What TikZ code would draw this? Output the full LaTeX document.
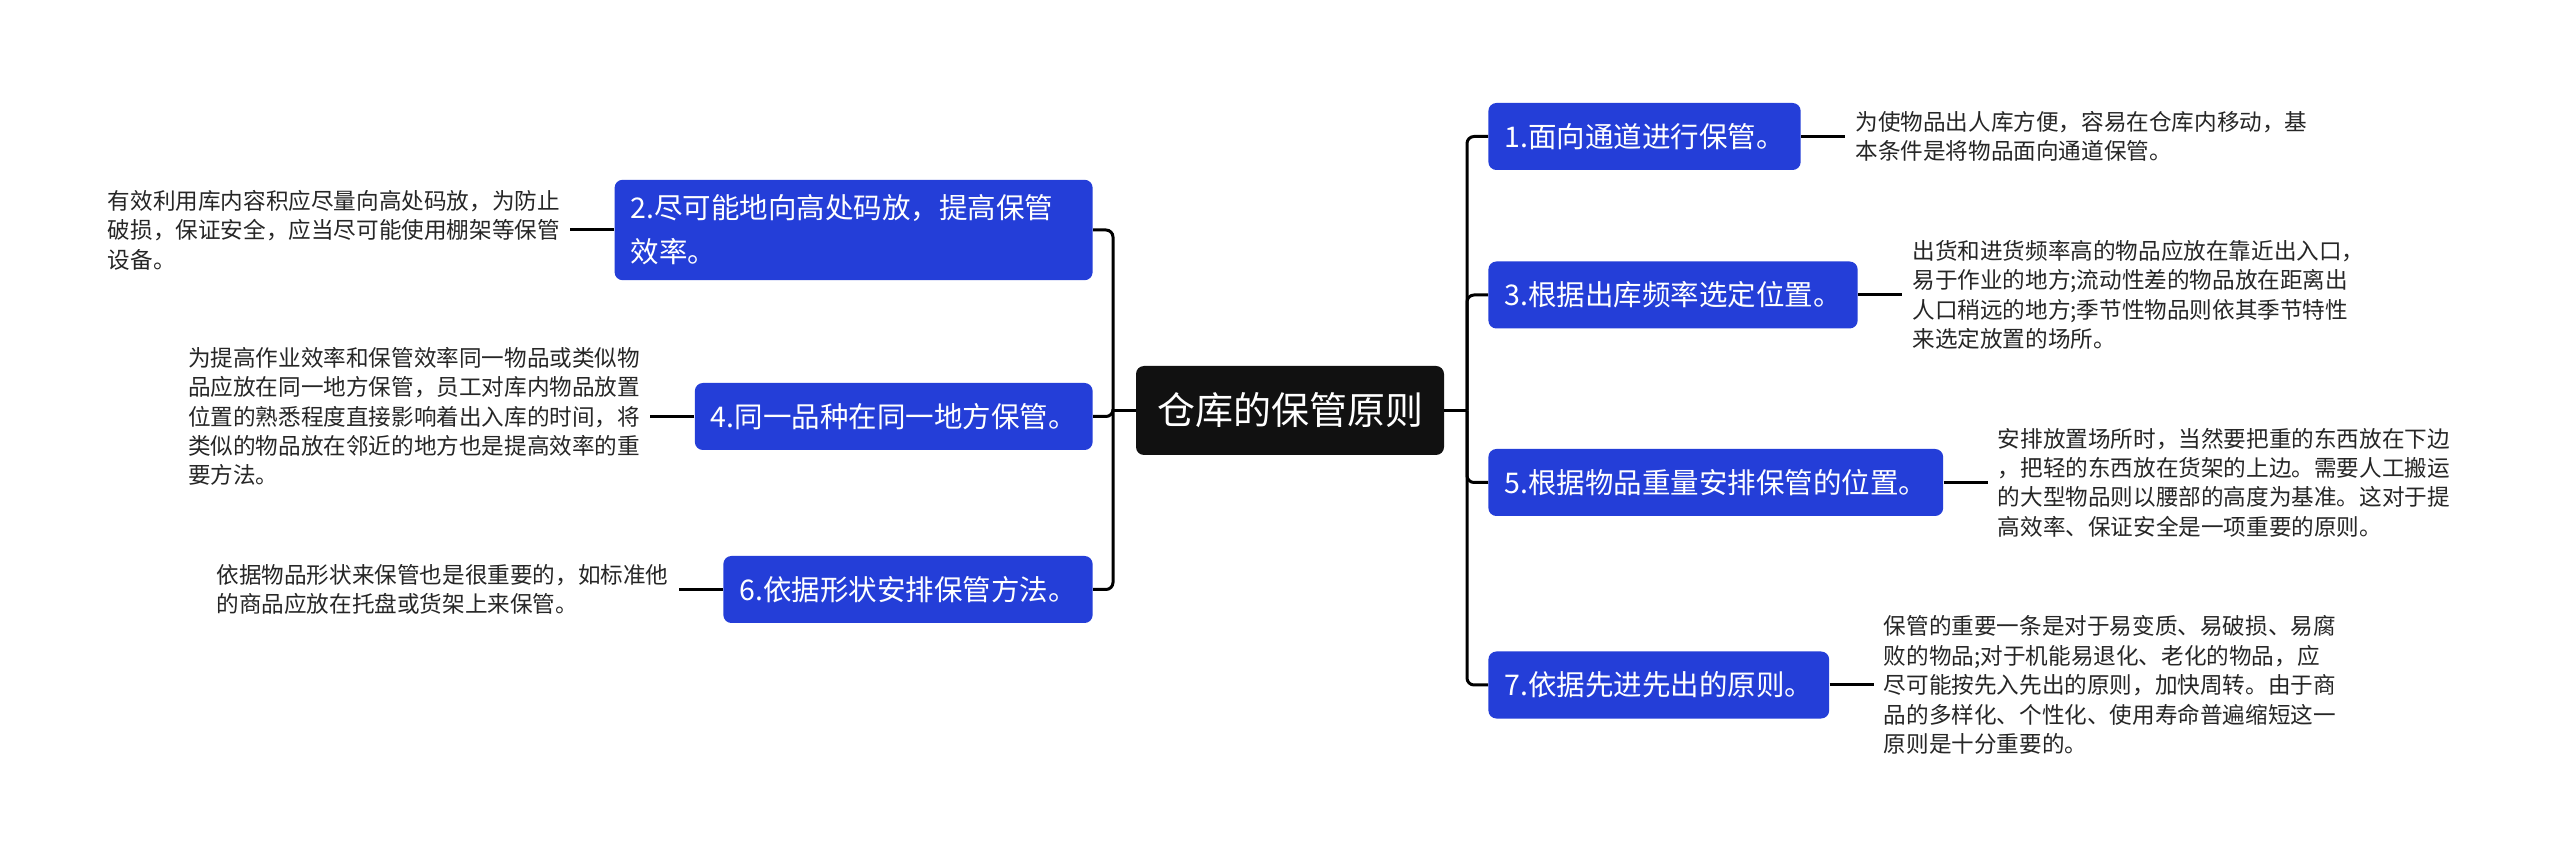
\documentclass[tikz,border=0pt]{standalone}
\usepackage{fontspec}
\setmainfont{Noto Sans CJK SC}
\usepackage{tikz}
\usetikzlibrary{positioning}

\definecolor{rootgray}{HTML}{111111}
\definecolor{branchblue}{RGB}{36,62,216}
\definecolor{notegray}{HTML}{262626}

\tikzset{
  root/.style={fill=rootgray,text=white,rounded corners=4pt,font=\fontsize{19}{23}\selectfont,inner xsep=10.5pt,minimum height=44.5pt},
  branch/.style={fill=branchblue,text=white,rounded corners=4pt,font=\fontsize{14.25}{22}\selectfont,inner xsep=8pt,inner ysep=7.5pt,minimum height=33.5pt,align=left},
  note/.style={text=notegray,font=\fontsize{11.3}{14.7}\selectfont,align=left,inner sep=5pt},
  link/.style={draw=black,line width=1.5pt,rounded corners=3.5pt}
}

\begin{document}
\begin{tikzpicture}[x=0.5pt,y=-0.5pt]
  \useasboundingbox[fill=white] (0,0) rectangle (2560,865);

  \node[root] (c) at (1290,410.5) {仓库的保管原则};

  % right side
  \node[branch,anchor=west] (b1) at (1488,136.5) {1.面向通道进行保管。};
  \node[branch,anchor=west] (b3) at (1488,295) {3.根据出库频率选定位置。};
  \node[branch,anchor=west] (b5) at (1488,482.5) {5.根据物品重量安排保管的位置。};
  \node[branch,anchor=west] (b7) at (1488,685) {7.依据先进先出的原则。};

  \node[note,right=22pt of b1] (n1) {为使物品出人库方便，容易在仓库内移动，基\\本条件是将物品面向通道保管。};
  \node[note,right=22pt of b3] (n3) {出货和进货频率高的物品应放在靠近出入口，\\易于作业的地方;流动性差的物品放在距离出\\人口稍远的地方;季节性物品则依其季节特性\\来选定放置的场所。};
  \node[note,right=22pt of b5] (n5) {安排放置场所时，当然要把重的东西放在下边\\，把轻的东西放在货架的上边。需要人工搬运\\的大型物品则以腰部的高度为基准。这对于提\\高效率、保证安全是一项重要的原则。};
  \node[note,right=22pt of b7] (n7) {保管的重要一条是对于易变质、易破损、易腐\\败的物品;对于机能易退化、老化的物品，应\\尽可能按先入先出的原则，加快周转。由于商\\品的多样化、个性化、使用寿命普遍缩短这一\\原则是十分重要的。};

  % left side
  \node[branch,anchor=east,text width=223pt] (b2) at (1093,230) {2.尽可能地向高处码放，提高保管\\效率。};
  \node[branch,anchor=east] (b4) at (1093,416.5) {4.同一品种在同一地方保管。};
  \node[branch,anchor=east] (b6) at (1093,589.5) {6.依据形状安排保管方法。};

  \node[note,left=22pt of b2] (n2) {有效利用库内容积应尽量向高处码放，为防止\\破损，保证安全，应当尽可能使用棚架等保管\\设备。};
  \node[note,left=22pt of b4] (n4) {为提高作业效率和保管效率同一物品或类似物\\品应放在同一地方保管，员工对库内物品放置\\位置的熟悉程度直接影响着出入库的时间，将\\类似的物品放在邻近的地方也是提高效率的重\\要方法。};
  \node[note,left=22pt of b6] (n6) {依据物品形状来保管也是很重要的，如标准他\\的商品应放在托盘或货架上来保管。};

  \coordinate (rt) at (1467,410.5);
  \coordinate (lt) at (1113,410.5);

  \draw[link] (c.east) -- (rt);
  \draw[link] (c.west) -- (lt);
  \foreach \b in {b1,b3,b5,b7}
    \draw[link] (rt) |- (\b.west);
  \foreach \b in {b2,b4,b6}
    \draw[link] (lt) |- (\b.east);
  \foreach \b/\n in {b1/n1,b3/n3,b5/n5,b7/n7}
    \draw[link] (\b.east) -- (\n.west);
  \foreach \b/\n in {b2/n2,b4/n4,b6/n6}
    \draw[link] (\b.west) -- (\n.east);
\end{tikzpicture}
\end{document}
